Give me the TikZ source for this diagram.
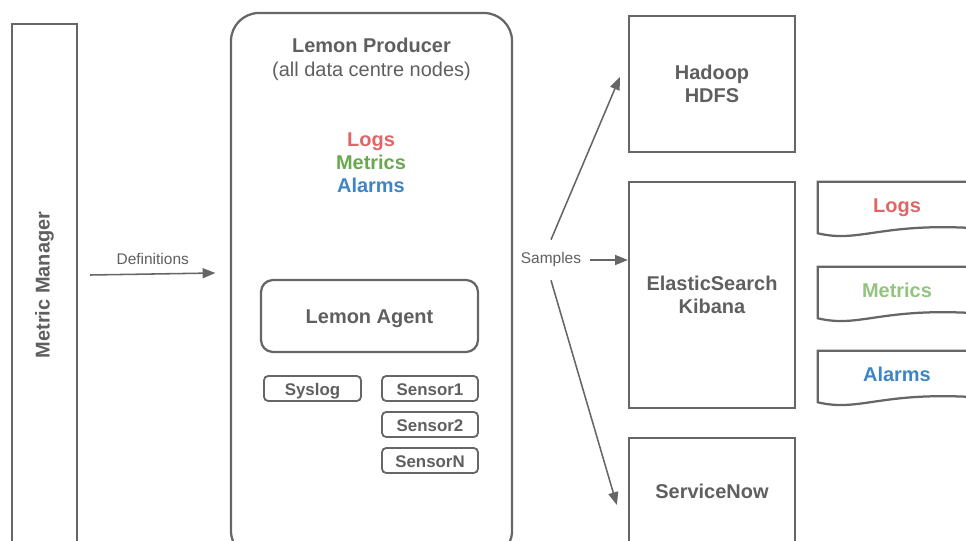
\documentclass[tikz,border=0pt]{standalone}
\usepackage{fontspec}
\setmainfont{Liberation Sans}
\usetikzlibrary{arrows.meta}

\definecolor{linegray}{HTML}{666666}
\definecolor{textgray}{HTML}{5F5F5F}
\definecolor{logred}{HTML}{E06666}
\definecolor{metricgreen}{HTML}{6AA84F}
\definecolor{metriclight}{HTML}{93C47D}
\definecolor{alarmblue}{HTML}{3D85C6}

\begin{document}
\begin{tikzpicture}[
  box/.style={draw=linegray,line width=1.6pt,text=textgray,align=center,
    font=\fontsize{14.2}{16.4}\selectfont\bfseries},
  plain/.style={text=textgray,align=center,font=\fontsize{14.2}{16.4}\selectfont\bfseries},
  onerow/.style={text height=1em,text depth=0pt},
  sensorbox/.style={box,onerow,rounded corners=3pt,line width=1.3pt,inner sep=0pt,
    minimum width=2.4cm,minimum height=0.625cm,font=\fontsize{12}{14}\selectfont\bfseries},
  docbox/.style={plain,onerow,minimum width=3.95cm,minimum height=1.15cm},
  docline/.style={draw=linegray,line width=1.6pt},
  lbl/.style={text=textgray,font=\fontsize{11}{13}\selectfont},
  flow/.style={-{Triangle[length=0.32cm,width=0.25cm]},draw=linegray,fill=linegray,line width=1.1pt}
]
  \clip (0,0) rectangle (24.15,13.5);

  % left: metric manager
  \node[box,minimum width=1.625cm,minimum height=13.05cm] (metric) at (1.1125,6.375) {};
  \node[plain,rotate=90] (metrictitle) at (metric) {Metric Manager};

  % middle: lemon producer
  \node[box,rounded corners=0.7cm,minimum width=7.025cm,minimum height=13.65cm] (producer) at (9.2875,6.35) {};
  \node[plain,font=\fontsize{14.2}{17}\selectfont\bfseries] (producertitle) at (9.2875,12.025)
    {Lemon Producer\\{\mdseries (all data centre nodes)}};

  \node[plain,onerow,text=logred] (logs) at (9.275,10.025) {Logs};
  \node[plain,onerow,text=metricgreen] (metrics) at (9.275,9.45) {Metrics};
  \node[plain,onerow,text=alarmblue] (alarms) at (9.275,8.875) {Alarms};

  \node[box,onerow,rounded corners=0.3cm,minimum width=5.425cm,minimum height=1.8cm] (agent) at (9.2375,5.6) {Lemon Agent};

  \node[sensorbox,minimum width=2.425cm] (syslog) at (7.8125,3.7875) {Syslog};
  \node[sensorbox] (sensor1) at (10.75,3.7875) {Sensor1};
  \node[sensorbox] (sensor2) at (10.75,2.8875) {Sensor2};
  \node[sensorbox] (sensorN) at (10.75,1.9875) {SensorN};

  \draw[flow] ([shift={(0.3,0.25)}]metric.east) --
    node[lbl,inner sep=0pt,above=0.22cm] (definitions) {Definitions}
    ([shift={(-0.3625,0.325)}]producer.west);

  % right: sinks
  \node[box,minimum width=4.15cm,minimum height=3.4cm] (hadoop) at (17.8,11.4) {Hadoop\\HDFS};
  \node[box,minimum width=4.15cm,minimum height=5.65cm] (elastic) at (17.8,6.125) {ElasticSearch\\Kibana};
  \node[box,onerow,minimum width=4.15cm,minimum height=2.65cm] (servicenow) at (17.8,1.225) {ServiceNow};

  \node[lbl,inner xsep=0.225cm,inner ysep=0.32cm] (samples) at (13.775,7.0) {Samples};
  \draw[flow] (samples.north) -- ([shift={(-0.2,0.175)}]hadoop.west);
  \draw[flow] (samples.east) -- (samples.east -| elastic.west);
  \draw[flow] (samples.south) -- ([shift={(-0.275,-0.35)}]servicenow.west);

  \node[docbox,text=logred] (logsdoc) at (22.425,8.375) {Logs};
  \node[docbox,text=metriclight] (metricsdoc) at (22.425,6.25) {Metrics};
  \node[docbox,text=alarmblue] (alarmsdoc) at (22.425,4.15) {Alarms};
  \foreach \d in {logsdoc,metricsdoc,alarmsdoc}
    \draw[docline] (\d.south east) -- (\d.north east) -- (\d.north west)
      -- ([yshift=-0.125cm]\d.south west)
      .. controls +(1.05,-0.25) and +(-2.4,0.15) .. (\d.south east);

\end{tikzpicture}
\end{document}
